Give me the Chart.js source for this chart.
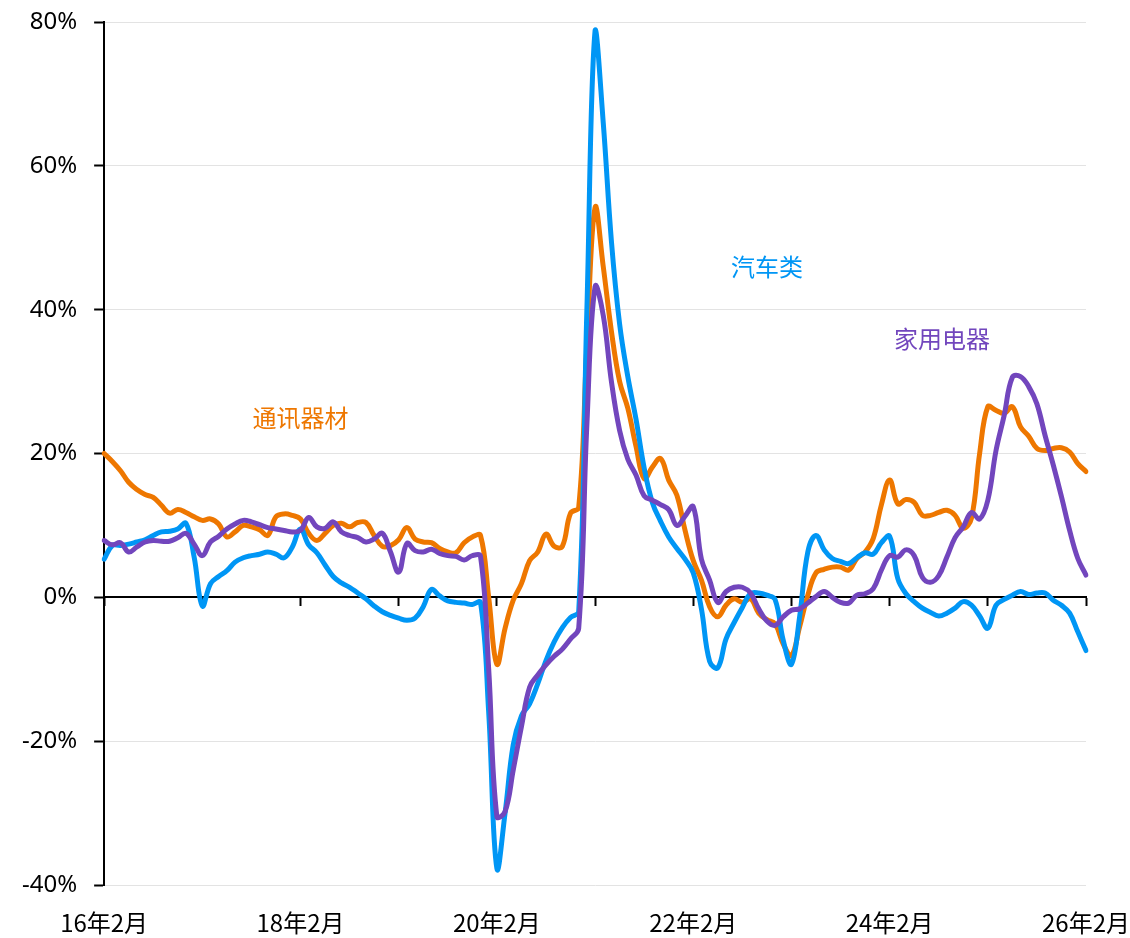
<!DOCTYPE html>
<html>
<head>
<meta charset="utf-8">
<script src="https://cdn.jsdelivr.net/npm/chart.js@4/dist/chart.umd.min.js"></script>
<style>
  html, body { margin: 0; padding: 0; background: #fff; }
  #wrap { position: relative; width: 1130px; height: 938px; }
</style>
</head>
<body>
<div id="wrap"><canvas id="myChart"></canvas></div>
<script>
// months 16年2月 .. 26年2月
const months = [];
for (let k = 0; k <= 120; k++) {
    const yy = 16 + Math.floor((k + 1) / 12);
    const mm = (k + 1) % 12 + 1;
    months.push(yy + '年' + mm + '月');
}
const shownTicks = ['16年2月', '18年2月', '20年2月', '22年2月', '24年2月', '26年2月'];
const yTicks = [-40, -20, 0, 20, 40, 60, 80];

// 通讯器材
const telecom = [
    20.0, 18.9, 17.6, 16.0, 15.0, 14.3, 13.9, 12.8, 11.7, 12.2, 11.8, 11.2,
    10.7, 10.9, 10.2, 8.4, 9.1, 10.0, 9.8, 9.4, 8.6, 11.2, 11.6, 11.4,
    10.9, 8.9, 7.9, 8.9, 10.0, 10.3, 9.8, 10.4, 10.4, 8.6, 7.1, 7.2,
    8.0, 9.7, 8.1, 7.7, 7.6, 6.8, 6.3, 6.2, 7.6, 8.4, 8.6, 0.0,
    -9.3, -4.3, -0.4, 1.9, 5.1, 6.3, 8.8, 7.1, 7.1, 11.7, 12.5, 35.0,
    54.2, 46.0, 37.0, 30.0, 26.3, 21.0, 16.5, 18.1, 19.3, 16.3, 14.2, 9.3,
    5.1, 2.4, -1.3, -2.7, -1.1, -0.2, -0.7, -0.2, -2.2, -3.1, -3.7, -6.5,
    -8.1, -4.1, 0.3, 3.4, 3.9, 4.2, 4.2, 3.8, 5.4, 6.3, 8.2, 12.9,
    16.3, 13.0, 13.6, 13.2, 11.4, 11.4, 11.8, 12.1, 11.4, 9.6, 11.0, 20.0,
    26.5, 26.0, 25.6, 26.5, 23.7, 22.4, 20.7, 20.4, 20.7, 20.8, 20.2, 18.6,
    17.5
];

// 汽车类
const autos = [
    5.3, 7.2, 7.2, 7.4, 7.7, 8.0, 8.6, 9.1, 9.2, 9.5, 10.3, 5.6,
    -1.2, 1.9, 2.9, 3.7, 4.9, 5.5, 5.8, 6.0, 6.3, 6.0, 5.5, 7.0,
    9.5, 7.3, 6.2, 4.5, 2.9, 2.0, 1.4, 0.6, -0.2, -1.2, -2.0, -2.5,
    -2.9, -3.2, -2.9, -1.3, 1.1, 0.2, -0.5, -0.7, -0.8, -1.0, -0.7, -16.0,
    -37.7, -30.0, -20.5, -16.5, -14.8, -12.0, -8.8, -6.2, -4.2, -2.8, -2.0, 40.0,
    78.8, 66.0, 49.5, 38.0, 30.7, 24.8, 18.0, 13.2, 10.6, 8.4, 6.8, 5.3,
    3.4, -1.6, -8.9, -9.8, -5.8, -3.5, -1.4, 0.5, 0.6, 0.3, -0.3, -6.0,
    -9.3, -2.7, 6.3, 8.6, 6.6, 5.4, 5.0, 4.7, 5.5, 6.2, 6.0, 7.6,
    8.5, 2.6, 0.5, -0.6, -1.5, -2.1, -2.6, -2.2, -1.5, -0.6, -1.1, -2.6,
    -4.3, -1.1, -0.3, 0.3, 0.8, 0.4, 0.6, 0.6, -0.4, -1.1, -2.2, -4.8,
    -7.4
];

// 家用电器
const appliances = [
    7.9, 7.3, 7.6, 6.3, 7.0, 7.7, 7.9, 7.8, 7.8, 8.3, 8.9, 7.4,
    5.8, 7.7, 8.5, 9.5, 10.2, 10.7, 10.5, 10.1, 9.7, 9.5, 9.3, 9.1,
    9.3, 11.1, 9.8, 9.6, 10.5, 9.1, 8.6, 8.3, 7.7, 8.1, 8.9, 6.3,
    3.5, 7.5, 6.5, 6.3, 6.7, 6.1, 5.8, 5.7, 5.2, 5.8, 5.7, -10.0,
    -30.5, -29.8, -24.0, -18.0, -12.5, -10.8, -9.4, -8.2, -7.2, -5.8, -4.3, 24.0,
    43.2, 39.2, 30.0, 23.2, 19.2, 17.0, 14.1, 13.5, 12.9, 12.2, 10.0, 11.3,
    12.6, 5.3, 2.4, -0.7, 0.8, 1.4, 1.4, 0.6, -1.6, -3.3, -3.9, -2.7,
    -1.8, -1.6, -0.8, 0.1, 0.8, 0.0, -0.7, -0.8, 0.3, 0.5, 1.2, 3.8,
    5.8, 5.6, 6.6, 5.8, 2.8, 2.1, 3.0, 5.6, 8.3, 9.8, 11.8, 10.9,
    13.5, 20.4, 25.3, 30.6, 30.7, 29.3, 26.9, 22.5, 18.4, 14.0, 9.3, 5.4,
    3.1
];

const ORANGE = '#EE7700';
const BLUE = '#0096F5';
const PURPLE = '#7246BD';

// series names drawn inside the plot
const seriesLabels = {
    id: 'seriesLabels',
    afterDatasetsDraw(chart, args, opts) {
        const { ctx, scales } = chart;
        ctx.save();
        ctx.font = opts.font;
        ctx.textAlign = 'center';
        ctx.textBaseline = 'middle';
        opts.items.forEach(it => {
            ctx.fillStyle = it.color;
            ctx.fillText(it.text, scales.x.getPixelForValue(it.index), scales.y.getPixelForValue(it.value));
        });
        ctx.restore();
    }
};

const lineStyle = {
    borderWidth: 5,
    pointRadius: 0,
    pointHoverRadius: 0,
    tension: 0.4,
    fill: false,
    borderCapStyle: 'round',
    borderJoinStyle: 'round'
};

new Chart(document.getElementById('myChart'), {
    type: 'line',
    data: {
        labels: months,
        datasets: [
            { label: '家用电器', data: appliances, borderColor: PURPLE, ...lineStyle },
            { label: '汽车类', data: autos, borderColor: BLUE, ...lineStyle },
            { label: '通讯器材', data: telecom, borderColor: ORANGE, ...lineStyle }
        ]
    },
    options: {
        responsive: true,
        maintainAspectRatio: false,
        animation: false,
        layout: { padding: { top: 22, left: 5, right: 0, bottom: 2 } },
        plugins: {
            legend: { display: false },
            tooltip: { enabled: false },
            seriesLabels: {
                font: '24px "Noto Sans CJK SC", sans-serif',
                items: [
                    { text: '通讯器材', index: 24, value: 24.9, color: ORANGE },
                    { text: '汽车类', index: 81, value: 45.9, color: BLUE },
                    { text: '家用电器', index: 102.4, value: 36.0, color: PURPLE }
                ]
            }
        },
        scales: {
            x: {
                type: 'category',
                position: 'bottom',
                grid: { display: false, drawTicks: false },
                border: { display: false },
                ticks: {
                    autoSkip: false,
                    maxRotation: 0,
                    minRotation: 0,
                    padding: 23,
                    color: '#000',
                    font: { family: '"Noto Sans CJK SC"', size: 24 },
                    callback: (v, i) => shownTicks.includes(months[i]) ? months[i] : ''
                },
                afterFit: s => {
                    s.height = 51;
                    s.paddingLeft = 0;
                    s.paddingRight = 44;
                }
            },
            // zero line with yearly tick marks
            x2: {
                type: 'category',
                axis: 'x',
                position: { y: 0 },
                grid: {
                    drawOnChartArea: false,
                    drawTicks: true,
                    tickLength: 8,
                    tickWidth: 2,
                    tickColor: c => c.index % 12 === 0 ? '#000' : 'rgba(0,0,0,0)'
                },
                border: { display: true, color: '#000', width: 2 },
                ticks: { display: false, autoSkip: false, maxRotation: 0, minRotation: 0, callback: () => '' }
            },
            y: {
                min: -40,
                max: 80,
                afterBuildTicks: s => { s.ticks = yTicks.map(v => ({ value: v })); },
                afterFit: s => {
                    s.paddingTop = 0;
                    s.paddingBottom = 0;
                },
                grid: {
                    color: '#e3e3e3',
                    lineWidth: 1,
                    tickColor: '#000',
                    tickLength: 10,
                    tickWidth: 2
                },
                border: { display: true, color: '#000', width: 2 },
                ticks: {
                    padding: 17,
                    color: '#000',
                    font: { family: '"Noto Sans"', size: 24 },
                    callback: v => v + '%'
                }
            }
        }
    },
    plugins: [seriesLabels]
});
</script>
</body>
</html>
